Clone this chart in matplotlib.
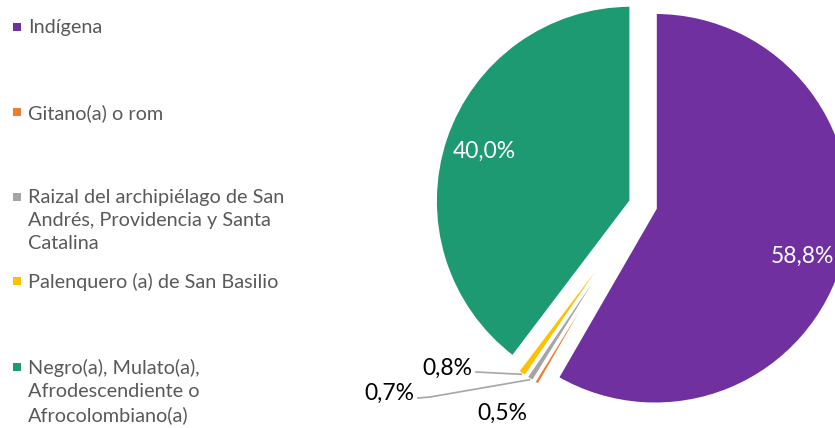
import matplotlib.pyplot as plt
import numpy as np

categories = [
    "Indígena",
    "Gitano(a) o rom",
    "Raizal del archipiélago de San\nAndrés, Providencia y Santa\nCatalina",
    "Palenquero (a) de San Basilio",
    "Negro(a), Mulato(a),\nAfrodescendiente o\nAfrocolombiano(a)",
]
values = [58.8, 0.5, 0.7, 0.8, 40.0]
colors = ["#7030A0", "#ED7D31", "#A5A5A5", "#FFC000", "#1D9A71"]

plt.rcParams["font.family"] = ["Lato", "DejaVu Sans"]

W, H = 835, 428
fig = plt.figure(figsize=(W / 100, H / 100), dpi=100)
ax = fig.add_axes([0, 0, 1, 1])

# explode is in data units here (pixels), radius too
wedges, _ = ax.pie(values, colors=colors, startangle=90, counterclock=False,
                   explode=[12.5] * len(values), center=(643, H - 205), radius=196,
                   wedgeprops=dict(edgecolor="white", linewidth=2.5))
ax.set_xlim(0, W)
ax.set_ylim(0, H)
ax.set_aspect("equal")
ax.axis("off")


def pct(v):
    return f"{v:.1f}%".replace(".", ",")


def wedge_point(w, frac, shift=0.0):
    # point along a wedge, frac of radius from its tip, shift in degrees from its middle
    ang = np.deg2rad((w.theta1 + w.theta2) / 2 + shift)
    cx, cy = w.center
    return cx + frac * w.r * np.cos(ang), cy + frac * w.r * np.sin(ang)


# big slices: labels inside
for i, sh in ((0, -3.0), (4, 0.0)):
    x, y = wedge_point(wedges[i], 0.79, sh)
    ax.text(x, y, pct(values[i]), color="white", fontsize=16.5,
            ha="center", va="center")

# small slices: labels outside, some with leader lines
lead = "#A6A6A6"
ax.text(502, H - 413, pct(values[1]), fontsize=16.5, ha="center", va="center")

ax.text(389, H - 393, pct(values[2]), fontsize=16.5, ha="center", va="center")
px, py = wedge_point(wedges[2], 1.0)
ax.plot([418, 430, px], [H - 398, H - 397, py], color=lead, lw=1.2)

ax.text(447, H - 368, pct(values[3]), fontsize=16.5, ha="center", va="center")
px, py = wedge_point(wedges[3], 1.0)
ax.plot([476, px], [H - 372, py], color=lead, lw=1.2)

# legend on the left
legend_y = [27, 112, 197, 281, 367]
for lab, c, y in zip(categories, colors, legend_y):
    ax.scatter([17], [H - y], marker="s", s=30, color=c, linewidths=0)
    ax.text(28, H - y + 8, lab, color="#595959", fontsize=14.3, ha="left",
            va="top", linespacing=1.42)

fig.savefig("out.png", dpi=100)
